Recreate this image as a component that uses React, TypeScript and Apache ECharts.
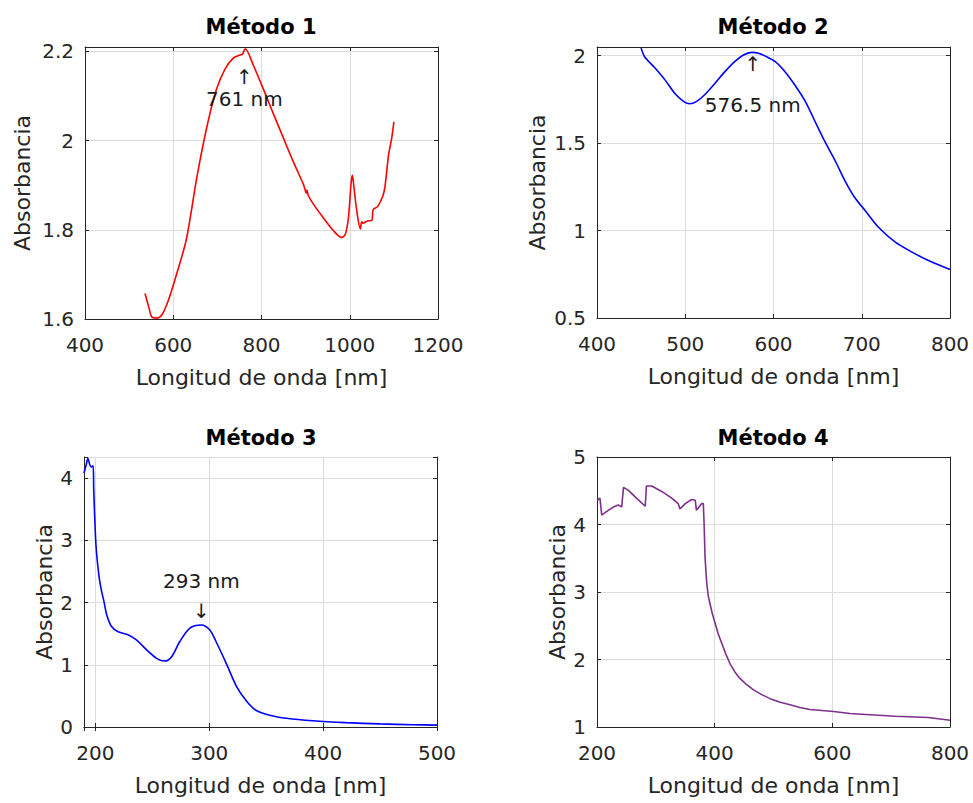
import React, { useEffect, useRef } from "react";
import * as echarts from "echarts";

// ---- Data ----
const titles = ["Método 1", "Método 2", "Método 3", "Método 4"];
const xAxisName = "Longitud de onda [nm]";
const yAxisName = "Absorbancia";

const m1Wavelength = [536, 545, 551, 562, 574, 589, 608, 630, 653, 676, 698, 717, 736, 751, 755, 758, 763, 782, 804, 827, 850, 872, 895, 898, 901, 903, 906, 918, 940, 963, 982, 990, 997, 1003, 1006, 1009, 1016, 1024, 1027, 1030, 1040, 1050, 1053, 1063, 1075, 1080, 1088, 1095, 1100];
const m1Absorbance = [1.657, 1.625, 1.605, 1.602, 1.609, 1.642, 1.702, 1.78, 1.915, 2.03, 2.115, 2.16, 2.185, 2.192, 2.193, 2.196, 2.206, 2.168, 2.116, 2.06, 2.005, 1.953, 1.902, 1.893, 1.882, 1.889, 1.877, 1.857, 1.827, 1.798, 1.783, 1.79, 1.827, 1.905, 1.922, 1.9, 1.842, 1.802, 1.818, 1.815, 1.82, 1.821, 1.845, 1.852, 1.876, 1.898, 1.968, 2.005, 2.042];

const m2Wavelength = [450, 454, 466, 477, 488, 498, 505, 513, 522, 534, 545, 556, 566, 575, 583, 592, 602, 613, 624, 636, 647, 658, 670, 681, 692, 704, 719, 738, 757, 775, 800];
const m2Absorbance = [2.045, 1.994, 1.928, 1.862, 1.786, 1.739, 1.725, 1.739, 1.777, 1.844, 1.909, 1.966, 2.004, 2.019, 2.014, 1.995, 1.966, 1.909, 1.834, 1.739, 1.625, 1.511, 1.398, 1.284, 1.189, 1.114, 1.019, 0.934, 0.877, 0.83, 0.777];

const m3Wavelength = [190, 192, 193.5, 195, 196.5, 198, 198.5, 200, 201, 203, 205, 207.5, 210, 214, 220, 229, 236, 245, 254, 261, 267, 274, 283, 293, 300.5, 306, 315, 324, 333, 341, 353, 368, 391, 420, 450, 479, 500];
const m3Absorbance = [4.08, 4.22, 4.32, 4.22, 4.18, 4.2, 3.84, 3.1, 2.8, 2.45, 2.22, 2.02, 1.8, 1.62, 1.53, 1.48, 1.4, 1.24, 1.1, 1.06, 1.13, 1.37, 1.59, 1.64, 1.56, 1.37, 1.02, 0.65, 0.41, 0.27, 0.19, 0.14, 0.1, 0.07, 0.05, 0.037, 0.03];

const m4Wavelength = [201, 205, 208, 216, 228, 236, 242, 245, 253, 267, 282, 284, 293, 310, 327, 338, 341, 350, 361, 367, 369, 378, 380.7, 382, 383.6, 386.5, 389, 392, 396, 400.6, 406, 412, 419, 426, 434, 443, 454, 466, 480, 494, 510, 528, 545, 562, 602, 630, 650, 707, 763, 800];
const m4Absorbance = [4.36, 4.39, 4.14, 4.19, 4.26, 4.29, 4.26, 4.55, 4.51, 4.39, 4.27, 4.57, 4.57, 4.49, 4.39, 4.31, 4.23, 4.31, 4.37, 4.36, 4.21, 4.31, 4.31, 4.02, 3.52, 3.13, 2.95, 2.83, 2.68, 2.54, 2.38, 2.24, 2.08, 1.94, 1.82, 1.72, 1.63, 1.55, 1.48, 1.42, 1.37, 1.33, 1.29, 1.26, 1.23, 1.2, 1.19, 1.16, 1.14, 1.1];

const xRanges = [
  { min: 400, max: 1200, interval: 200 },
  { min: 400, max: 800, interval: 100 },
  { min: 190, max: 500, interval: 100 },
  { min: 200, max: 800, interval: 200 },
];
const yRanges = [
  { min: 1.6, max: 2.21, interval: 0.2 },
  { min: 0.5, max: 2.05, interval: 0.5 },
  { min: 0, max: 4.34, interval: 1 },
  { min: 1, max: 5, interval: 1 },
];

const peakWavelengths = [761, 576.5, 293];
const peakAbsorbances = [2.205, 2.02, 1.64];
const peakLabels = ["761 nm", "576.5 nm", "293 nm"];

const lineColors = ["#ff0000", "#0000ff", "#0000ff", "#7e2f8e"];
const lineSmooth = [0.3, 0.3, 0.3, 0];

// ---- Layout / style ----
const FONT = "'DejaVu Sans', 'Liberation Sans', Arial, sans-serif";
const AX = "#262626";
const GRIDC = "#dcdcdc";
const grids = [
  { left: 85, top: 47, width: 353, height: 272 },
  { left: 597, top: 47, width: 353, height: 271 },
  { left: 84, top: 457, width: 353, height: 270 },
  { left: 597, top: 457, width: 353, height: 270 },
];
const yNameGaps = [52, 49, 29, 29];
const titlePos = [
  [261, 27],
  [773, 27],
  [261, 438],
  [773, 438],
];

function zip(xs: number[], ys: number[]) {
  return xs.map((x, i) => [x, ys[i]]);
}

function fmt(interval: number) {
  return (v: number) => {
    const k = v / interval;
    if (Math.abs(k - Math.round(k)) > 1e-6) return "";
    return String(+v.toFixed(6));
  };
}

function scaleOpts(r: { min: number; max: number; interval: number }) {
  if (r.min % r.interval === 0) return { min: r.min, max: r.max, interval: r.interval };
  // min is not a multiple of the interval: let ECharts place nice ticks, fixing the step
  return { min: r.min, max: r.max, minInterval: r.interval, maxInterval: r.interval };
}

export default function App() {
  const ref = useRef<HTMLDivElement>(null);
  useEffect(() => {
    if (!ref.current) return;
    const chart = echarts.init(ref.current, undefined, { renderer: "svg" });
    const series: any[] = [];
    const xAxis: any[] = [];
    const yAxis: any[] = [];
    const datasets = [
      zip(m1Wavelength, m1Absorbance),
      zip(m2Wavelength, m2Absorbance),
      zip(m3Wavelength, m3Absorbance),
      zip(m4Wavelength, m4Absorbance),
    ];
    for (let i = 0; i < 4; i++) {
      const xr = xRanges[i];
      const yr = yRanges[i];
      xAxis.push({
        type: "value", gridIndex: i, position: "bottom",
        ...scaleOpts(xr),
        name: xAxisName, nameLocation: "middle", nameGap: 47,
        nameTextStyle: { fontFamily: FONT, fontSize: 22, color: AX },
        axisLine: { show: true, lineStyle: { color: AX, width: 1 } },
        axisTick: { show: true, inside: true, length: 4, lineStyle: { color: AX } },
        axisLabel: { fontFamily: FONT, fontSize: 20, color: AX, margin: 16, formatter: fmt(xr.interval) },
        splitLine: { show: true, lineStyle: { color: GRIDC, width: 1 } },
      });
      xAxis.push({
        type: "value", gridIndex: i, position: "top",
        ...scaleOpts(xr),
        axisLine: { show: true, lineStyle: { color: AX, width: 1 } },
        axisTick: { show: true, inside: true, length: 4, lineStyle: { color: AX } },
        axisLabel: { show: false },
        splitLine: { show: false },
      });
      yAxis.push({
        type: "value", gridIndex: i, position: "left",
        ...scaleOpts(yr),
        name: yAxisName, nameLocation: "middle", nameGap: yNameGaps[i],
        nameTextStyle: { fontFamily: FONT, fontSize: 22, color: AX },
        axisLine: { show: true, lineStyle: { color: AX, width: 1 } },
        axisTick: { show: true, inside: true, length: 4, lineStyle: { color: AX } },
        axisLabel: { fontFamily: FONT, fontSize: 20, color: AX, margin: 11, formatter: fmt(yr.interval) },
        splitLine: { show: true, lineStyle: { color: GRIDC, width: 1 } },
      });
      yAxis.push({
        type: "value", gridIndex: i, position: "right",
        ...scaleOpts(yr),
        axisLine: { show: true, lineStyle: { color: AX, width: 1 } },
        axisTick: { show: true, inside: true, length: 4, lineStyle: { color: AX } },
        axisLabel: { show: false },
        splitLine: { show: false },
      });
      series.push({
        type: "line",
        xAxisIndex: i * 2, yAxisIndex: i * 2,
        data: datasets[i],
        showSymbol: false, symbol: "none",
        smooth: lineSmooth[i] || false,
        lineStyle: { color: lineColors[i], width: 1.6 },
        clip: true,
        z: 3,
      });
    }
    // peak annotations
    const arrowUp = [true, true, false];
    const arrowDist = [18, 2, 4];
    const textDist = [40, 43, 34];
    for (let j = 0; j < 3; j++) {
      const pos = arrowUp[j] ? "bottom" : "top";
      const base = { show: true, position: pos, fontFamily: FONT, color: "#1a1a1a", opacity: 1, textBorderWidth: 0 };
      series.push({
        type: "scatter",
        xAxisIndex: j * 2, yAxisIndex: j * 2,
        symbolSize: 0,
        silent: true,
        z: 5,
        itemStyle: { color: "#1a1a1a", opacity: 1 },
        data: [
          { value: [peakWavelengths[j], peakAbsorbances[j]], label: { ...base, distance: arrowDist[j], formatter: arrowUp[j] ? "↑" : "↓", fontSize: 20 } },
          { value: [peakWavelengths[j], peakAbsorbances[j]], label: { ...base, distance: textDist[j], formatter: peakLabels[j], fontSize: 20 } },
        ],
      });
    }
    chart.setOption({
      animation: false,
      backgroundColor: "#ffffff",
      grid: grids.map((g) => ({ ...g, containLabel: false, outerBoundsMode: "none" })),
      xAxis,
      yAxis,
      series,
      graphic: titles.map((t, i) => ({
        type: "text",
        x: titlePos[i][0],
        y: titlePos[i][1],
        style: {
          text: t,
          align: "center",
          verticalAlign: "middle",
          fontFamily: FONT,
          fontSize: 21,
          fontWeight: "bold",
          fill: "#000000",
        },
      })),
    });
    return () => chart.dispose();
  }, []);
  return (
    <div
      ref={ref}
      style={{ position: "absolute", left: 0, top: 0, width: 973, height: 803, background: "#fff" }}
    />
  );
}
